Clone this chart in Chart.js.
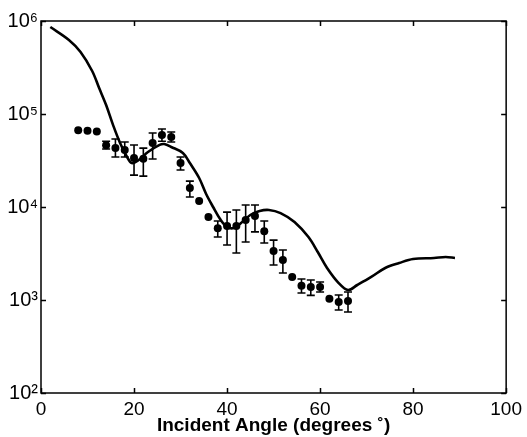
<!DOCTYPE html>
<html>
<head>
<meta charset="utf-8">
<script src="https://cdn.jsdelivr.net/npm/chart.js@4.4.1/dist/chart.umd.min.js"></script>
<style>
  html, body { margin: 0; padding: 0; background: #fff; }
  #wrap { width: 527px; height: 437px; }
</style>
</head>
<body>
<div id="wrap"><canvas id="graphicFirst"></canvas></div>
<script>
//-----Data
const theoryAngle = [2, 6, 8.5, 11, 12.5, 14, 15.5, 17, 18.5, 19.5, 21, 23, 25.5, 26.5, 28, 30.5, 32, 34, 35.5, 37, 38.5, 40, 41.5, 43, 45, 47, 49, 51.5, 54.5, 57.5, 59.5, 61.5, 64, 66, 68, 71, 74, 77, 80, 84.5, 87, 89];
const theoryCounts = [861000, 625000, 464000, 290000, 190000, 125000, 76000, 48800, 34500, 29700, 32000, 39000, 46500, 47500, 44200, 38100, 29700, 20500, 13800, 10000, 7430, 6100, 5940, 6730, 8200, 9060, 9290, 8600, 6900, 4750, 3280, 2210, 1520, 1280, 1450, 1770, 2210, 2500, 2760, 2830, 2900, 2830];

const dataAngle = [8, 10, 12, 14, 16, 18, 20, 22, 24, 26, 28, 30, 32, 34, 36, 38, 40, 42, 44, 46, 48, 50, 52, 54, 56, 58, 60, 62, 64, 66];
const dataCounts = [67000, 66000, 65000, 46000, 43000, 41000, 33600, 33000, 48800, 59400, 56600, 29700, 16000, 11600, 7800, 5900, 6250, 6250, 7250, 8000, 5500, 3370, 2690, 1770, 1420, 1380, 1380, 1030, 950, 975];
const errLow  = [null, null, null, 42000, 34500, 34500, 22000, 21500, 32800, 51000, 50000, 25000, 12800, null, null, 4750, 3900, 3200, 4200, 5400, 4100, 2380, 1950, null, 1190, 1120, 1220, null, 780, 743];
const errHigh = [null, null, null, 51000, 53800, 50000, 46500, 43000, 62500, 69000, 64000, 34500, 19000, null, null, 7070, 8800, 9300, 10500, 10500, 7070, 4400, 3450, null, 1680, 1640, 1560, null, 1130, 1220];

const xTicks = [0, 20, 40, 60, 80, 100];
const yTicks = [100, 1000, 10000, 100000, 1000000];
const supDigits = {'2':'\u00B2','3':'\u00B3','4':'\u2074','5':'\u2075','6':'\u2076'};

const fontFam = "'Liberation Sans', Arial, Helvetica, sans-serif";

//-----Plugins
const errorBars = {
  id: 'errorBars',
  afterDatasetsDraw(chart) {
    const ctx = chart.ctx;
    const xs = chart.scales.x, ys = chart.scales.y;
    ctx.save();
    ctx.strokeStyle = '#000';
    ctx.lineWidth = 1.6;
    for (let i = 0; i < dataAngle.length; i++) {
      if (errLow[i] === null) continue;
      const px = xs.getPixelForValue(dataAngle[i]);
      const y1 = ys.getPixelForValue(errLow[i]);
      const y2 = ys.getPixelForValue(errHigh[i]);
      ctx.beginPath();
      ctx.moveTo(px, y1); ctx.lineTo(px, y2);
      ctx.moveTo(px - 4, y1); ctx.lineTo(px + 4, y1);
      ctx.moveTo(px - 4, y2); ctx.lineTo(px + 4, y2);
      ctx.stroke();
    }
    ctx.restore();
  }
};

const boxTicks = {
  id: 'boxTicks',
  afterDraw(chart) {
    const ctx = chart.ctx;
    const a = chart.chartArea;
    const xs = chart.scales.x, ys = chart.scales.y;
    ctx.save();
    ctx.strokeStyle = '#000';
    ctx.lineWidth = 1.5;
    ctx.strokeRect(a.left, a.top, a.right - a.left, a.bottom - a.top);
    ctx.beginPath();
    xTicks.forEach(v => {
      const px = Math.round(xs.getPixelForValue(v)) + 0.5;
      ctx.moveTo(px, a.bottom); ctx.lineTo(px, a.bottom - 5);
      ctx.moveTo(px, a.top); ctx.lineTo(px, a.top + 5);
    });
    yTicks.forEach(v => {
      const py = Math.round(ys.getPixelForValue(v)) + 0.5;
      ctx.moveTo(a.left, py); ctx.lineTo(a.left + 5, py);
      ctx.moveTo(a.right, py); ctx.lineTo(a.right - 5, py);
    });
    ctx.stroke();
    ctx.restore();
  }
};

//-----GRAPHIC
const ctx = document.getElementById('graphicFirst').getContext('2d');
const chart1 = new Chart(ctx, {
  type: 'scatter',
  data: {
    datasets: [
      {
        label: 'Theory',
        data: theoryAngle.map((x, i) => ({x: x, y: theoryCounts[i]})),
        showLine: true,
        borderColor: '#000',
        borderWidth: 2.6,
        pointRadius: 0,
        tension: 0.35,
        fill: false,
      },
      {
        label: 'Measured',
        data: dataAngle.map((x, i) => ({x: x, y: dataCounts[i]})),
        showLine: false,
        pointRadius: 4,
        pointBackgroundColor: '#000',
        pointBorderColor: '#000',
        pointBorderWidth: 0,
      },
    ]
  },
  options: {
    responsive: true,
    maintainAspectRatio: false,
    animation: false,
    layout: { padding: { top: 21, right: 17, left: 0, bottom: 0 } },
    plugins: {
      legend: { display: false },
      tooltip: { enabled: false },
    },
    scales: {
      x: {
        type: 'linear',
        min: 0,
        max: 100,
        afterBuildTicks: s => { s.ticks = xTicks.map(v => ({value: v})); },
        afterFit: s => { s.height = 44; },
        grid: { display: false, drawTicks: false },
        border: { display: false },
        ticks: { color: '#000', padding: 5, font: { family: fontFam, size: 19 } },
        title: {
          display: true,
          text: 'Incident Angle (degrees \u02DA)',
          color: '#000',
          padding: { top: -7, bottom: 0 },
          font: { family: fontFam, size: 19, weight: 'bold' },
        },
      },
      y: {
        type: 'logarithmic',
        min: 100,
        max: 1000000,
        afterBuildTicks: s => { s.ticks = yTicks.map(v => ({value: v})); },
        afterFit: s => { s.width = 41; },
        grid: { display: false, drawTicks: false },
        border: { display: false },
        ticks: {
          color: '#000',
          padding: 3,
          font: { family: fontFam, size: 20 },
          callback: v => '10' + supDigits[String(Math.round(Math.log10(v)))],
        },
      },
    },
  },
  plugins: [errorBars, boxTicks],
});
</script>
</body>
</html>
